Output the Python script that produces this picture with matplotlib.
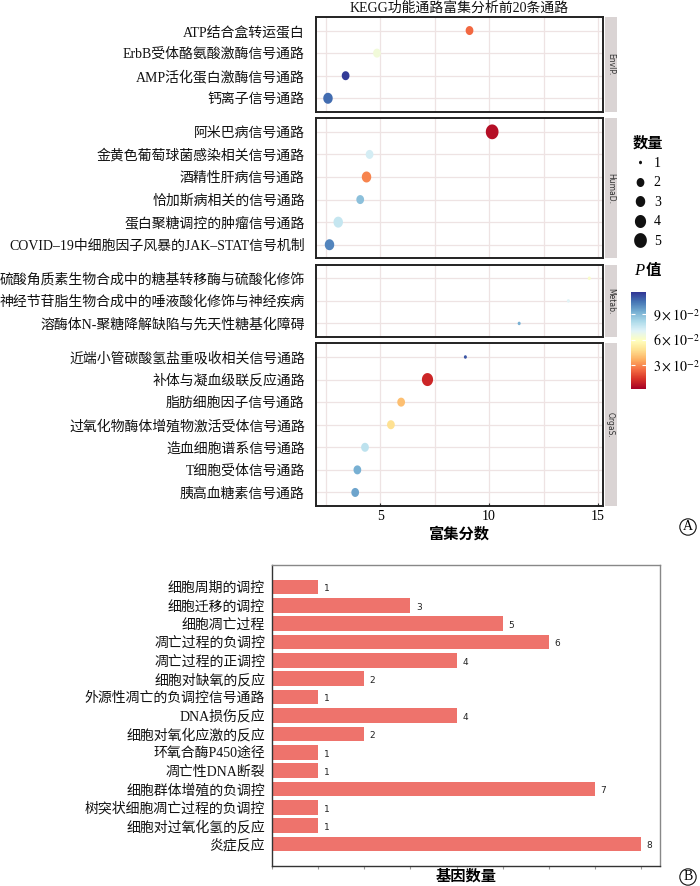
import numpy as np
import matplotlib
matplotlib.use("Agg")
import matplotlib.pyplot as plt
from matplotlib.path import Path
from matplotlib.lines import Line2D
from matplotlib.colors import Normalize
from matplotlib.cm import ScalarMappable

plt.rcParams['font.family'] = ['Liberation Serif', 'Noto Sans CJK SC']
plt.rcParams['mathtext.fontset'] = 'stix'

# ---- panel A: KEGG dot plot data (top to bottom inside each facet)
kegg_groups = ["EnvIP.", "HumaD.", "Metab.", "OrgaS."]
kegg_group = ["EnvIP."] * 4 + ["HumaD."] * 6 + ["Metab."] * 3 + ["OrgaS."] * 7
kegg_terms = [
    "ATP结合盒转运蛋白",
    "ErbB受体酪氨酸激酶信号通路",
    "AMP活化蛋白激酶信号通路",
    "钙离子信号通路",
    "阿米巴病信号通路",
    "金黄色葡萄球菌感染相关信号通路",
    "酒精性肝病信号通路",
    "恰加斯病相关的信号通路",
    "蛋白聚糖调控的肿瘤信号通路",
    "COVID–19中细胞因子风暴的JAK–STAT信号机制",
    "硫酸角质素生物合成中的糖基转移酶与硫酸化修饰",
    "神经节苷脂生物合成中的唾液酸化修饰与神经疾病",
    "溶酶体N-聚糖降解缺陷与先天性糖基化障碍",
    "近端小管碳酸氢盐重吸收相关信号通路",
    "补体与凝血级联反应通路",
    "脂肪细胞因子信号通路",
    "过氧化物酶体增殖物激活受体信号通路",
    "造血细胞谱系信号通路",
    "T细胞受体信号通路",
    "胰高血糖素信号通路",
]
kegg_score = [9.10, 4.85, 3.41, 2.60,
              10.14, 4.51, 4.37, 4.08, 3.07, 2.67,
              14.6, 13.64, 11.38,
              8.91, 7.17, 5.96, 5.49, 4.30, 3.95, 3.85]
kegg_count = [2, 2, 2, 3,
              5, 2, 3, 2, 3, 3,
              1, 1, 1,
              1, 4, 2, 2, 2, 2, 2]
kegg_p = [0.024, 0.064, 0.115, 0.106,
          0.006, 0.073, 0.029, 0.088, 0.076, 0.101,
          0.061, 0.070, 0.092,
          0.110, 0.011, 0.040, 0.048, 0.078, 0.092, 0.095]

# ---- panel B: GO bar chart data (top to bottom)
go_terms = [
    "细胞周期的调控", "细胞迁移的调控", "细胞凋亡过程", "凋亡过程的负调控",
    "凋亡过程的正调控", "细胞对缺氧的反应", "外源性凋亡的负调控信号通路",
    "DNA损伤反应", "细胞对氧化应激的反应", "环氧合酶P450途径", "凋亡性DNA断裂",
    "细胞群体增殖的负调控", "树突状细胞凋亡过程的负调控", "细胞对过氧化氢的反应", "炎症反应",
]
go_counts = [1, 3, 5, 6, 4, 2, 1, 4, 2, 1, 1, 7, 1, 1, 8]

size_px = {1: 3.5, 2: 9.0, 3: 11.0, 4: 13.0, 5: 14.8}

W, H = 700, 886
fig = plt.figure(figsize=(W / 100, H / 100), dpi=100)

# slightly tall ellipse marker like the reference
t = np.linspace(0, 2 * np.pi, 61)
ell = Path(np.column_stack([0.86 * np.cos(t), np.sin(t)]))

cmap = plt.get_cmap("RdYlBu")
norm = Normalize(vmin=0.002, vmax=0.116)

n_per = [kegg_group.count(g) for g in kegg_groups]
gs = fig.add_gridspec(4, 1, left=316 / W, right=603 / W, top=1 - 17 / H, bottom=1 - 506 / H,
                      height_ratios=[n + 0.2 for n in n_per], hspace=0.055)

grid_c = "#EEE3E3"
for gi, g in enumerate(kegg_groups):
    ax = fig.add_subplot(gs[gi])
    idx = [i for i, gg in enumerate(kegg_group) if gg == g]
    n = len(idx)
    ys = np.arange(n)[::-1]
    xs = [kegg_score[i] for i in idx]
    cs = [cmap(norm(kegg_p[i])) for i in idx]
    ss = [(size_px[kegg_count[i]] * 0.72) ** 2 for i in idx]
    ax.set_axisbelow(True)
    ax.scatter(xs, ys, s=ss, c=cs, marker=ell, linewidths=0, zorder=3)
    ax.set_xlim(2.05, 15.23)
    ax.set_ylim(-0.6, n - 0.4)
    ax.set_yticks(ys)
    ax.set_yticklabels([kegg_terms[i] for i in idx], fontsize=10, color="#111")
    ax.set_xticks([5, 10, 15])
    ax.set_xticks([2.5, 7.5, 12.5], minor=True)
    ax.grid(True, which="both", color=grid_c, lw=0.9)
    ax.tick_params(axis="y", length=0, pad=8)
    ax.tick_params(axis="x", which="both", direction="in", length=2.5, color="#333")
    ax.tick_params(axis="x", which="minor", length=0)
    if gi < 3:
        ax.tick_params(axis="x", labelbottom=False, length=0)
    else:
        ax.tick_params(axis="x", labelsize=10, pad=3)
        ax.set_xlabel("富集分数", fontsize=11, fontweight="bold", labelpad=3)
    for sp in ax.spines.values():
        sp.set_color("#222")
        sp.set_linewidth(1.4)
    # facet strip on the right
    pos = ax.get_position()
    sax = fig.add_axes([pos.x1 + 1.5 / W, pos.y0, 12 / W, pos.height])
    sax.set_facecolor("#DAD4D4")
    sax.set_xticks([])
    sax.set_yticks([])
    for sp in sax.spines.values():
        sp.set_visible(False)
    sax.text(0.5, 0.5, g, rotation=-90, ha="center", va="center", fontsize=5.5,
             family="DejaVu Sans", color="#333", transform=sax.transAxes)

fig.text(459 / W, 1 - 8 / H, "KEGG功能通路富集分析前20条通路", ha="center", va="center",
         fontsize=10, color="#111")

# size legend
handles = [Line2D([], [], ls="none", marker=ell, color="#111",
                  markersize=size_px[k] * 0.72, markeredgewidth=0) for k in size_px]
leg = fig.legend(handles, [str(k) for k in size_px], title="数量", loc="upper left",
                 bbox_to_anchor=(626 / W, 1 - 129 / H), frameon=False, fontsize=10,
                 labelspacing=0.47, handletextpad=0.5, handlelength=1.0, borderpad=0,
                 title_fontproperties={"size": 11, "weight": "bold"})
leg._legend_box.align = "left"

# colour bar for P value
cax = fig.add_axes([631 / W, 1 - 389 / H, 15 / W, 97 / H])
cb = fig.colorbar(ScalarMappable(norm=norm, cmap=cmap), cax=cax)
cb.outline.set_visible(False)
cb.set_ticks([0.03, 0.06, 0.09])
cb.set_ticklabels([r"$3\times10^{-2}$", r"$6\times10^{-2}$", r"$9\times10^{-2}$"])
cax.tick_params(direction="in", color="white", length=3, width=0.8, labelsize=10, pad=5,
                left=True, right=True)
fig.text(639 / W, 1 - 271 / H, "P", style="italic", fontsize=12, ha="center", va="center")
fig.text(653 / W, 1 - 271 / H, "值", fontsize=11, fontweight="bold", ha="center", va="center")

# ---- panel B
bax = fig.add_axes([272 / W, 1 - 866 / H, (660 - 272) / W, (866 - 565) / H])
yb = np.arange(len(go_terms))
bax.barh(yb, go_counts, height=0.8, color="#EE736C", zorder=2)
for y, v in zip(yb, go_counts):
    bax.text(v + 0.12, y + 0.1, str(v), va="center", ha="left", fontsize=6.5,
             family="DejaVu Sans", color="#222")
bax.set_xlim(0, 8.41)
bax.set_ylim(len(go_terms) - 1 + 1.2, -1.2)
bax.set_yticks(yb)
bax.set_yticklabels(go_terms, fontsize=10, color="#111")
bax.set_xticks(range(0, 9))
bax.set_xticklabels([])
bax.tick_params(axis="y", length=0, pad=5)
bax.tick_params(axis="x", length=2.5, color="#999", width=0.8, pad=0)
bax.set_xlabel("基因数量", fontsize=11, fontweight="bold", labelpad=0)
for name, sp in bax.spines.items():
    sp.set_color("#333" if name in ("left", "bottom") else "#888")
    sp.set_linewidth(1.0)

# panel letters
for lab, yy in (("A", 527), ("B", 877)):
    fig.text(688 / W, 1 - yy / H, lab, fontsize=10, ha="center", va="center",
             bbox=dict(boxstyle="circle,pad=0.12", fc="white", ec="#111", lw=0.8))

fig.savefig("out.png", dpi=100)
